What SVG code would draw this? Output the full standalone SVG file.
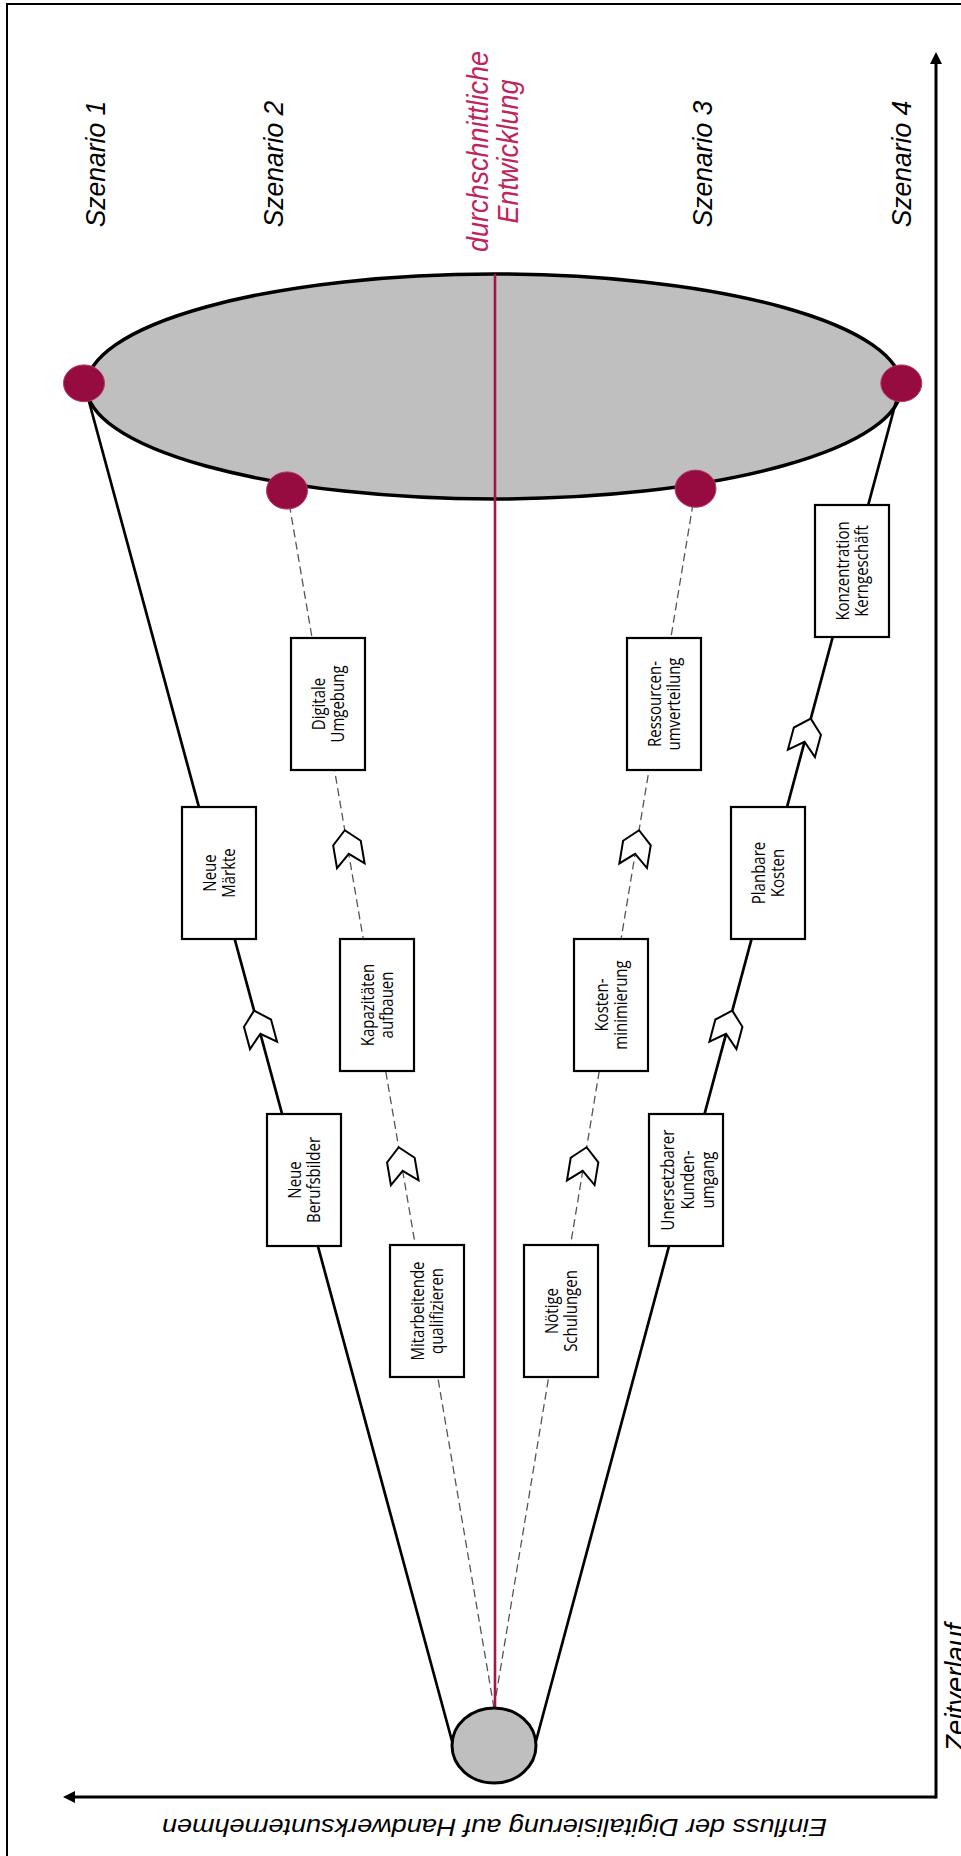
<svg xmlns="http://www.w3.org/2000/svg" width="961" height="1856" viewBox="0 0 961 1856">
<style>
.lbl{font-family:"Liberation Sans",Arial,sans-serif;font-style:italic;font-size:26.5px;fill:#000}
.avg{font-family:"Liberation Sans",Arial,sans-serif;font-style:italic;font-size:27px;fill:#C0245C}
.box rect{fill:#fff;stroke:#000;stroke-width:2.2}
.box text{font-family:"Open Sans","Noto Sans",sans-serif;font-size:15px;fill:#000;text-anchor:middle}
.solid{stroke:#000;stroke-width:2.7;fill:none}
.dash{stroke:#555;stroke-width:1.3;stroke-dasharray:8 4.5;fill:none}
.chev{fill:#fff;stroke:#000;stroke-width:2;stroke-linejoin:miter}
.dot{fill:#970C40;stroke:#B23A66;stroke-width:1}
.axis{stroke:#000;stroke-width:3;fill:none}
</style>
<defs>
<marker id="ah" markerUnits="userSpaceOnUse" markerWidth="13" markerHeight="13" refX="6" refY="6" orient="auto" viewBox="0 0 13 12">
<path d="M0,0 L12,6 L0,12 z" fill="#000"/>
</marker>
<polygon id="chv" points="0,-18 14,-5 14,18 0,6 -14,18 -14,-5"/>
</defs>
<rect x="0" y="0" width="961" height="1856" fill="#fff"/>
<rect x="7" y="4" width="980" height="1880" fill="none" stroke="#000" stroke-width="2"/>

<g id="axes">
<line class="axis" x1="936" y1="1797" x2="69" y2="1797" marker-end="url(#ah)"/>
<line class="axis" x1="936" y1="1798.5" x2="936" y2="58" marker-end="url(#ah)"/>
</g>

<g id="funnel-top">
<ellipse cx="494" cy="386.5" rx="407.5" ry="112.5" fill="#BFBFBF" stroke="#000" stroke-width="3.5"/>
</g>

<g id="connectors">
<line class="solid" x1="452" y1="1741" x2="84" y2="383"/>
<line class="solid" x1="536" y1="1741" x2="901" y2="383"/>
<line class="dash" x1="494" y1="1708" x2="287" y2="490.5"/>
<line class="dash" x1="494" y1="1708" x2="695.5" y2="488.7"/>
<line x1="495" y1="274" x2="495" y2="1709" stroke="#A51549" stroke-width="2.6"/>
<use href="#chv" class="chev" transform="translate(258.8,1028) rotate(-15.16)"/>
<use href="#chv" class="chev" transform="translate(347.8,848) rotate(-9.65)"/>
<use href="#chv" class="chev" transform="translate(401.7,1165) rotate(-9.65)"/>
<use href="#chv" class="chev" transform="translate(636.1,848) rotate(9.38)"/>
<use href="#chv" class="chev" transform="translate(583.7,1165) rotate(9.38)"/>
<use href="#chv" class="chev" transform="translate(727.6,1028) rotate(15.04)"/>
<use href="#chv" class="chev" transform="translate(806.1,736) rotate(15.04)"/>
</g>

<g id="start">
<ellipse cx="494" cy="1745.5" rx="42" ry="37.5" fill="#BFBFBF" stroke="#000" stroke-width="3"/>
</g>

<g id="dots">
<ellipse id="dot1" class="dot" cx="84" cy="383.3" rx="20.5" ry="18.4"/>
<ellipse id="dot2" class="dot" cx="287" cy="490.5" rx="20.5" ry="18.6"/>
<ellipse id="dot3" class="dot" cx="695.5" cy="488.7" rx="20.5" ry="18.6"/>
<ellipse id="dot4" class="dot" cx="901.3" cy="383.3" rx="20.5" ry="18.4"/>
</g>

<g id="n1" class="box"><rect x="182" y="807" width="74" height="132"/>
<g transform="translate(219,873) rotate(-90) scale(1,1.15)"><text x="0" y="-3.04">Neue</text><text x="0" y="13.48">Märkte</text></g></g>
<g id="n2" class="box"><rect x="267" y="1114" width="74" height="132"/>
<g transform="translate(304,1180) rotate(-90) scale(1,1.15)"><text x="0" y="-3.04">Neue</text><text x="0" y="13.48">Berufsbilder</text></g></g>
<g id="n3" class="box"><rect x="291" y="638" width="74" height="132"/>
<g transform="translate(328,704) rotate(-90) scale(1,1.15)"><text x="0" y="-3.04">Digitale</text><text x="0" y="13.48">Umgebung</text></g></g>
<g id="n4" class="box"><rect x="340" y="939" width="74" height="132"/>
<g transform="translate(377,1005) rotate(-90) scale(1,1.15)"><text x="0" y="-3.04">Kapazitäten</text><text x="0" y="13.48">aufbauen</text></g></g>
<g id="n5" class="box"><rect x="390" y="1245" width="74" height="132"/>
<g transform="translate(427,1311) rotate(-90) scale(1,1.15)"><text x="0" y="-3.04">Mitarbeitende</text><text x="0" y="13.48">qualifizieren</text></g></g>
<g id="n6" class="box"><rect x="524" y="1245" width="74" height="132"/>
<g transform="translate(561,1311) rotate(-90) scale(1,1.15)"><text x="0" y="-3.04">Nötige</text><text x="0" y="13.48">Schulungen</text></g></g>
<g id="n7" class="box"><rect x="574" y="939" width="74" height="132"/>
<g transform="translate(611,1005) rotate(-90) scale(1,1.15)"><text x="0" y="-3.04">Kosten-</text><text x="0" y="13.48">minimierung</text></g></g>
<g id="n8" class="box"><rect x="627" y="638" width="74" height="132"/>
<g transform="translate(664,704) rotate(-90) scale(1,1.15)"><text x="0" y="-3.04">Ressourcen-</text><text x="0" y="13.48">umverteilung</text></g></g>
<g id="n9" class="box"><rect x="649" y="1114" width="74" height="132"/>
<g transform="translate(686,1180) rotate(-90) scale(1,1.15)"><text x="0" y="-10.43">Unersetzbarer</text><text x="0" y="6.96">Kunden-</text><text x="0" y="24.35">umgang</text></g></g>
<g id="n10" class="box"><rect x="731" y="807" width="74" height="132"/>
<g transform="translate(768,873) rotate(-90) scale(1,1.15)"><text x="0" y="-3.04">Planbare</text><text x="0" y="13.48">Kosten</text></g></g>
<g id="n11" class="box"><rect x="815" y="505" width="74" height="132"/>
<g transform="translate(852,571) rotate(-90) scale(1,1.15)"><text x="0" y="-3.04">Konzentration</text><text x="0" y="13.48">Kerngeschäft</text></g></g>

<g id="labels">
<text class="lbl" text-anchor="middle" transform="translate(105,164) rotate(-90) scale(1,1.07)">Szenario 1</text>
<text class="lbl" text-anchor="middle" transform="translate(283,164) rotate(-90) scale(1,1.07)">Szenario 2</text>
<g transform="translate(488,151.5) rotate(-90) scale(1,1.07)">
<text class="avg" text-anchor="middle" x="0" y="0">durchschnittliche</text>
<text class="avg" text-anchor="middle" x="0" y="28">Entwicklung</text>
</g>
<text class="lbl" text-anchor="middle" transform="translate(712,164) rotate(-90) scale(1,1.07)">Szenario 3</text>
<text class="lbl" text-anchor="middle" transform="translate(911,164) rotate(-90) scale(1,1.07)">Szenario 4</text>
<text class="lbl" style="font-size:27.5px" text-anchor="middle" transform="translate(966,1687.5) rotate(-90) scale(1,1.07)">Zeitverlauf</text>
<text class="lbl" style="font-size:23.7px" text-anchor="middle" transform="translate(494.5,1819) rotate(180) scale(1.14,1)">Einfluss der Digitalisierung auf Handwerksunternehmen</text>
</g>
</svg>
